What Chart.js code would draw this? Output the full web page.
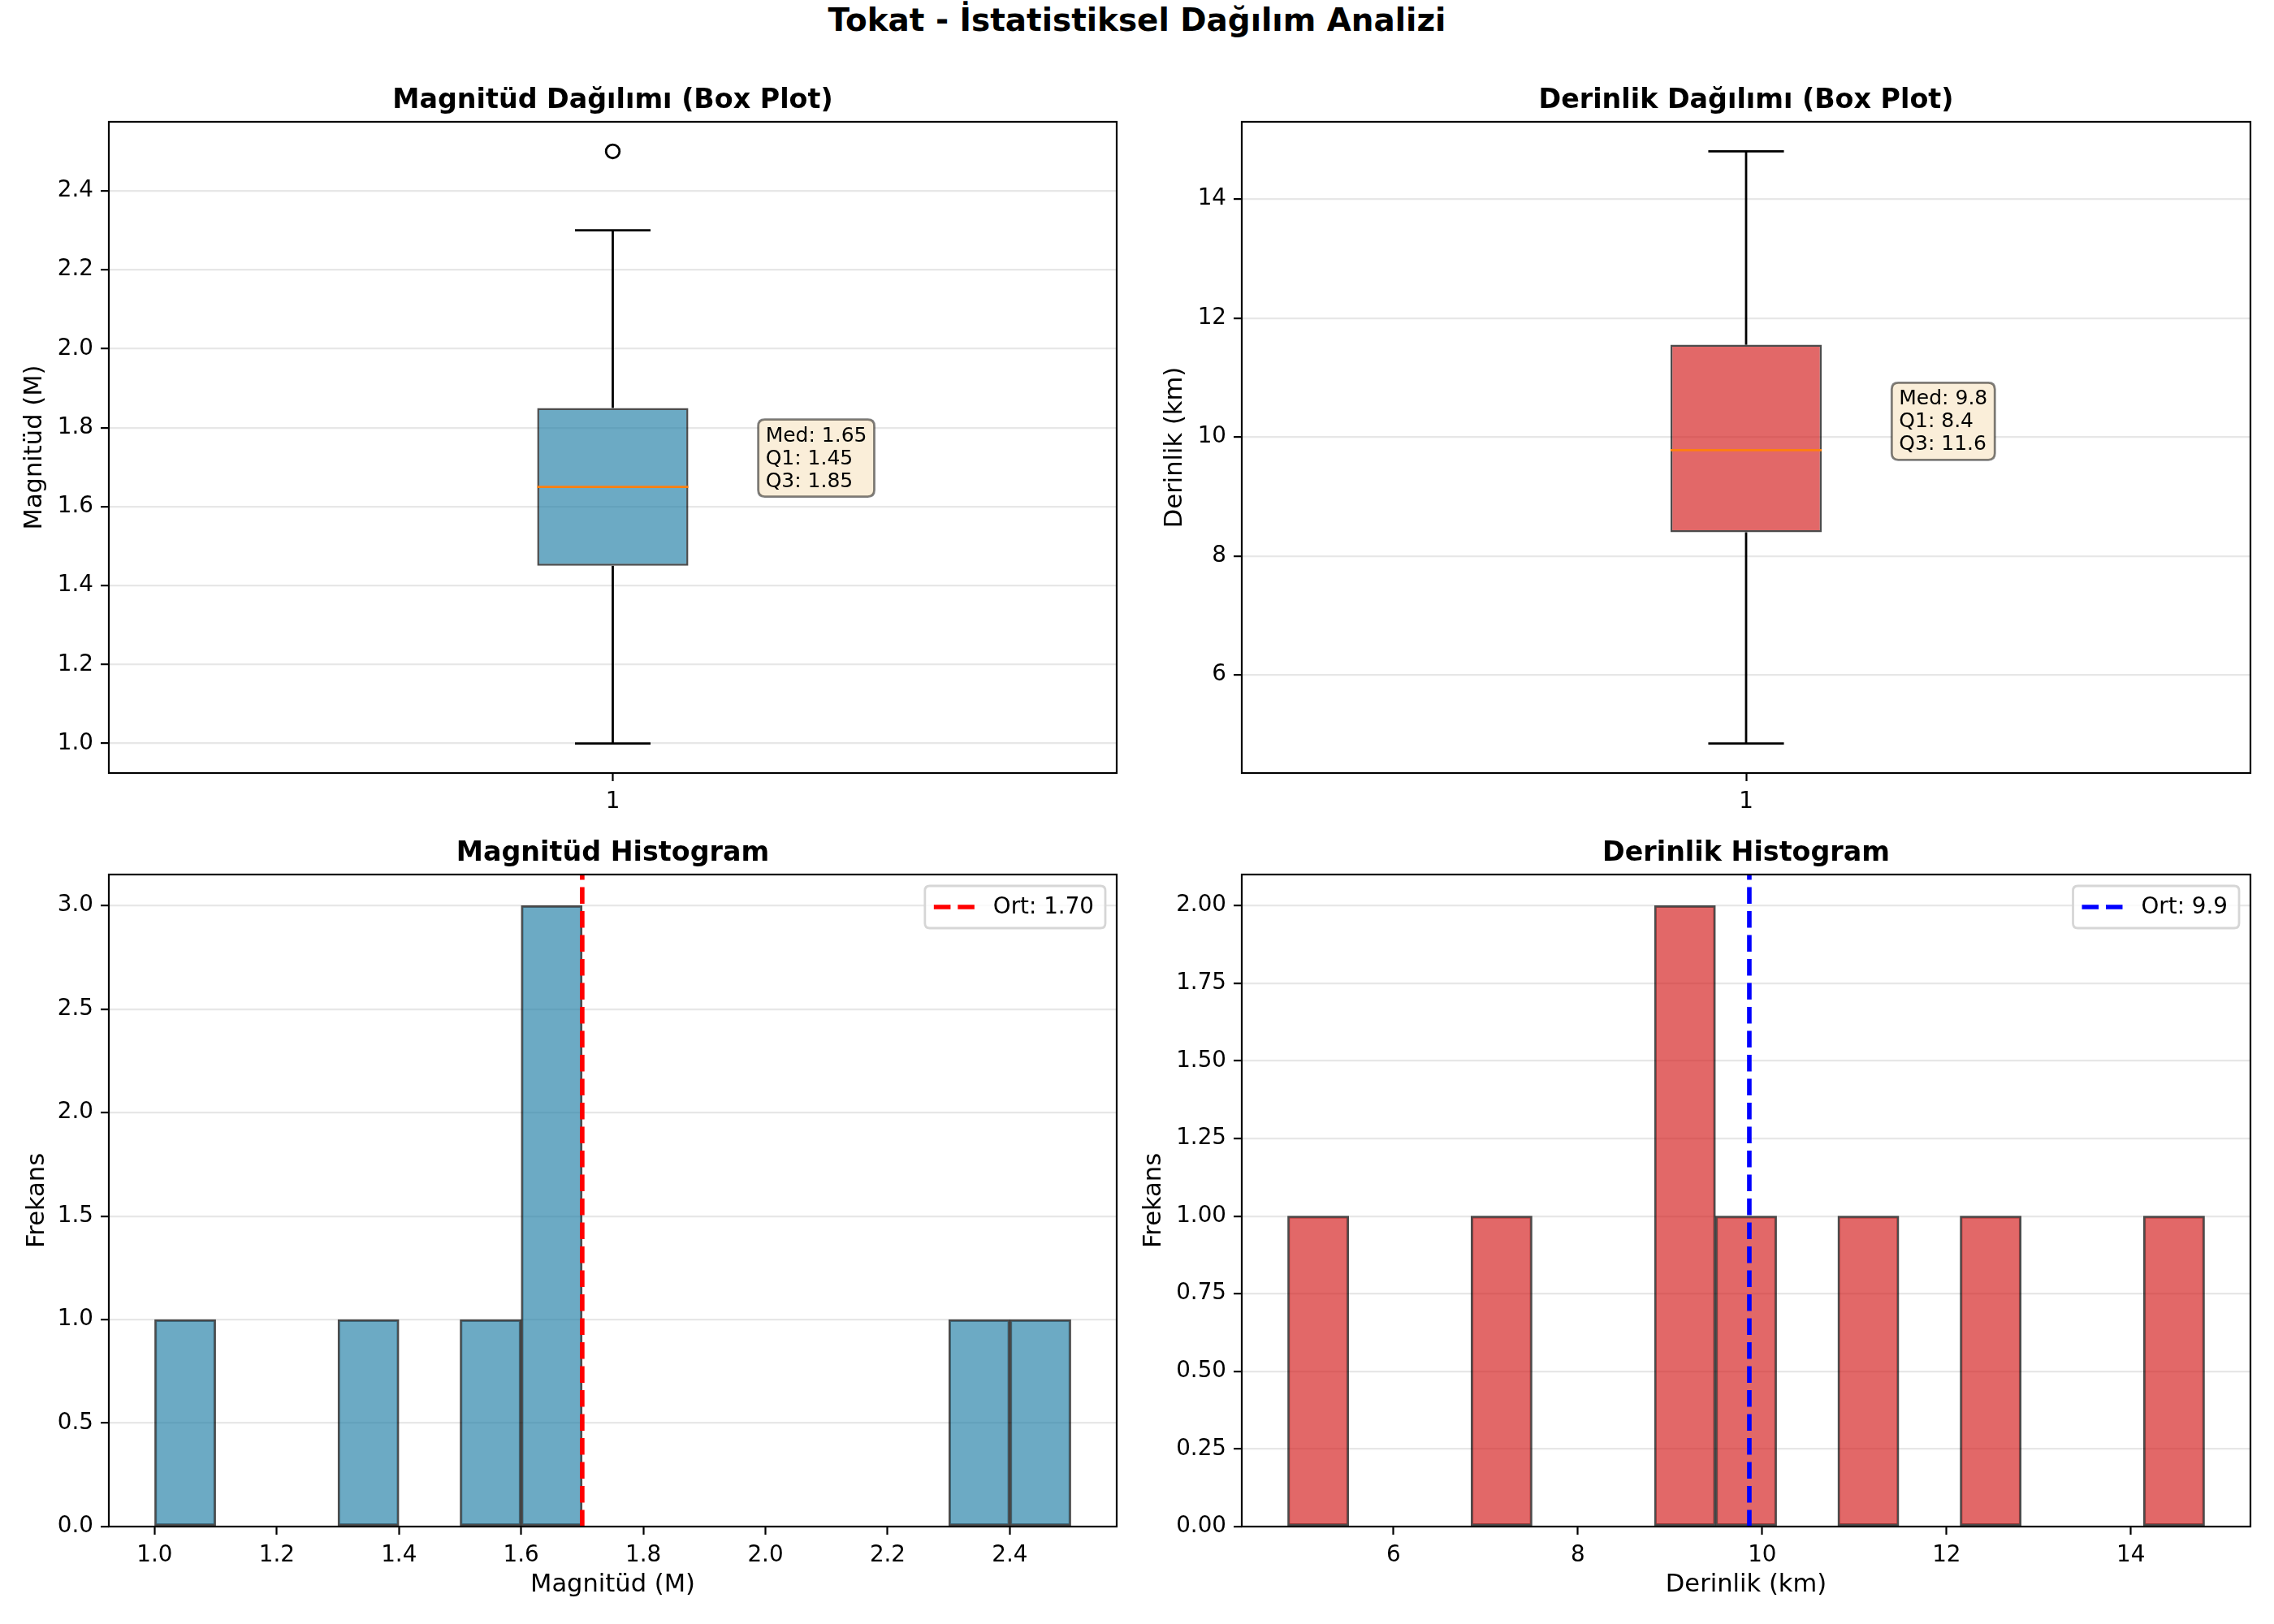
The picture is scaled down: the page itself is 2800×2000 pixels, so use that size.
<!DOCTYPE html>
<html>
<head>
<meta charset="utf-8">
<script src="https://cdn.jsdelivr.net/npm/chart.js@4.4.0/dist/chart.umd.min.js"></script>
<style>
html, body { margin: 0; padding: 0; background: #fff; }
#page { position: relative; width: 2800px; height: 2000px; overflow: hidden; background: #fff; }
.cell { position: absolute; }
#suptitle { position: absolute; left: 0; top: 6px; width: 2800px; text-align: center;
  font-family: 'DejaVu Sans', sans-serif; font-weight: bold; font-size: 38.9px; line-height: 38.9px; color: #000; }
</style>
</head>
<body>
<div id="page">
  <div id="suptitle">Tokat - İstatistiksel Dağılım Analizi</div>
  <div class="cell" style="left:0px;top:60px;"><canvas id="c1" width="1400" height="950"></canvas></div>
  <div class="cell" style="left:1400px;top:60px;"><canvas id="c2" width="1400" height="950"></canvas></div>
  <div class="cell" style="left:0px;top:1010px;"><canvas id="c3" width="1400" height="990"></canvas></div>
  <div class="cell" style="left:1400px;top:1010px;"><canvas id="c4" width="1400" height="990"></canvas></div>
</div>
<script>
// ---------------- DATA ----------------
// Box plot statistics: [lower whisker, Q1, median, Q3, upper whisker]
const MAG_BOX_STATS = [1.0, 1.45, 1.65, 1.85, 2.3];
const MAG_OUTLIERS = [2.5];
const DEPTH_BOX_STATS = [4.85, 8.4, 9.78, 11.55, 14.8];
const DEPTH_OUTLIERS = [];
const BOX_CATEGORY = ['1'];

// Histogram bins and counts
const MAG_BIN_EDGES = [1.0, 1.1, 1.2, 1.3, 1.4, 1.5, 1.6, 1.7, 1.8, 1.9, 2.0, 2.1, 2.2, 2.3, 2.4, 2.5];
const MAG_COUNTS = [1, 0, 0, 1, 0, 1, 3, 0, 0, 0, 0, 0, 0, 1, 1];
const MAG_MEAN = 1.70;

const DEPTH_BIN_EDGES = [4.85, 5.513, 6.177, 6.84, 7.503, 8.167, 8.83, 9.493, 10.157, 10.82, 11.483, 12.147, 12.81, 13.473, 14.137, 14.8];
const DEPTH_COUNTS = [1, 0, 0, 1, 0, 0, 2, 1, 0, 1, 0, 1, 0, 0, 1];
const DEPTH_MEAN = 9.86;

// Tick labels
const MAG_BOX_Y_TICKS = [1.0, 1.2, 1.4, 1.6, 1.8, 2.0, 2.2, 2.4];
const DEPTH_BOX_Y_TICKS = [6, 8, 10, 12, 14];
const BOX_X_TICKS = [1];
const MAG_HIST_X_TICKS = [1.0, 1.2, 1.4, 1.6, 1.8, 2.0, 2.2, 2.4];
const MAG_HIST_Y_TICKS = [0.0, 0.5, 1.0, 1.5, 2.0, 2.5, 3.0];
const DEPTH_HIST_X_TICKS = [6, 8, 10, 12, 14];
const DEPTH_HIST_Y_TICKS = [0.0, 0.25, 0.5, 0.75, 1.0, 1.25, 1.5, 1.75, 2.0];

// ---------------- STYLE ----------------
const PT = 200 / 72;
const TICK_PX = 10 * PT;
const LABEL_PX = 11 * PT;
const TITLE_PX = 12 * PT;
const ANN_PX = 9 * PT;
const LEGEND_PX = 10 * PT;
const MAG_FILL = 'rgba(46,134,171,0.7)';
const DEPTH_FILL = 'rgba(214,40,40,0.7)';
const EDGE = 'rgba(0,0,0,0.7)';
const BOX_POS = 1, BOX_W = 0.15, CAP_W = 0.075, ANN_X = 1.15;

Chart.defaults.font.family = "'DejaVu Sans', sans-serif";
Chart.defaults.color = '#000';

// ---------------- PLUGINS ----------------
const framePlugin = {
  id: 'frame',
  afterDatasetsDraw(chart) {
    const { ctx, chartArea: a } = chart;
    ctx.save();
    ctx.strokeStyle = '#000';
    ctx.lineWidth = 2.2;
    ctx.strokeRect(a.left, a.top, a.right - a.left, a.bottom - a.top);
    ctx.restore();
  }
};

function roundRectPath(ctx, x, y, w, h, r) {
  ctx.beginPath();
  ctx.moveTo(x + r, y);
  ctx.lineTo(x + w - r, y);
  ctx.quadraticCurveTo(x + w, y, x + w, y + r);
  ctx.lineTo(x + w, y + h - r);
  ctx.quadraticCurveTo(x + w, y + h, x + w - r, y + h);
  ctx.lineTo(x + r, y + h);
  ctx.quadraticCurveTo(x, y + h, x, y + h - r);
  ctx.lineTo(x, y + r);
  ctx.quadraticCurveTo(x, y, x + r, y);
  ctx.closePath();
}

const statBoxPlugin = {
  id: 'statBox',
  afterDraw(chart, args, opts) {
    if (!opts || !opts.lines) return;
    const { ctx } = chart;
    const ax = chart.scales.x.getPixelForValue(opts.x);
    const ay = chart.scales.y.getPixelForValue(opts.y);
    ctx.save();
    ctx.font = ANN_PX + "px 'DejaVu Sans'";
    const tw = Math.max(...opts.lines.map(l => ctx.measureText(l).width));
    const left = ax - 7, right = ax + 2 + tw + 9, top = ay - 83, bottom = ay + 12;
    roundRectPath(ctx, left, top, right - left, bottom - top, 8);
    ctx.fillStyle = '#FAEED9';
    ctx.fill();
    ctx.strokeStyle = 'rgba(0,0,0,0.5)';
    ctx.lineWidth = 2.8;
    ctx.stroke();
    ctx.fillStyle = '#000';
    ctx.textBaseline = 'alphabetic';
    ctx.textAlign = 'left';
    const n = opts.lines.length;
    opts.lines.forEach((l, i) => ctx.fillText(l, ax + 2, ay - 28 * (n - 1 - i)));
    ctx.restore();
  }
};

const innerLegendPlugin = {
  id: 'innerLegend',
  afterDraw(chart) {
    const ds = chart.data.datasets.find(d => d.inLegend);
    if (!ds) return;
    const { ctx, chartArea: a } = chart;
    ctx.save();
    ctx.font = LEGEND_PX + "px 'DejaVu Sans'";
    const tw = ctx.measureText(ds.label).width;
    const w = 84 + tw + 14, h = 52;
    const x = a.right - 14 - w, y = a.top + 14;
    roundRectPath(ctx, x, y, w, h, 6);
    ctx.fillStyle = 'rgba(255,255,255,0.8)';
    ctx.fill();
    ctx.strokeStyle = '#d6d6d6';
    ctx.lineWidth = 2.8;
    ctx.stroke();
    ctx.beginPath();
    ctx.setLineDash(ds.borderDash);
    ctx.lineWidth = ds.borderWidth;
    ctx.strokeStyle = ds.borderColor;
    ctx.moveTo(x + 11, y + h / 2);
    ctx.lineTo(x + 61, y + h / 2);
    ctx.stroke();
    ctx.setLineDash([]);
    ctx.fillStyle = '#000';
    ctx.textBaseline = 'middle';
    ctx.fillText(ds.label, x + 84, y + h / 2 + 1);
    ctx.restore();
  }
};

// ---------------- SCALES ----------------
function fmt(d) { return v => Number(v).toFixed(d); }

function xScale(min, max, ticks, dec, title, height, titlePadBottom) {
  return {
    type: 'linear', min, max, offset: false,
    afterBuildTicks: s => { s.ticks = ticks.map(v => ({ value: v })); },
    afterFit: s => { s.height = height; },
    ticks: { callback: fmt(dec), font: { size: TICK_PX }, color: '#000', padding: 9, maxRotation: 0, minRotation: 0, autoSkip: false },
    grid: { display: true, drawOnChartArea: false, drawTicks: true, tickLength: 10, tickWidth: 2.2, tickColor: '#000', offset: false },
    border: { display: false },
    title: title ? { display: true, text: title, font: { size: LABEL_PX }, color: '#000', padding: { top: 0, bottom: titlePadBottom } } : { display: false }
  };
}

function yScale(min, max, ticks, dec, title, width, titlePadTop) {
  return {
    type: 'linear', min, max, beginAtZero: false,
    afterBuildTicks: s => { s.ticks = ticks.map(v => ({ value: v })); },
    afterFit: s => { s.width = width; },
    ticks: { callback: fmt(dec), font: { size: TICK_PX }, color: '#000', padding: 9, autoSkip: false },
    grid: { display: true, drawOnChartArea: true, color: 'rgba(176,176,176,0.3)', lineWidth: 2.2, drawTicks: true, tickLength: 10, tickWidth: 2.2, tickColor: '#000' },
    border: { display: false },
    title: { display: true, text: title, font: { size: LABEL_PX }, color: '#000', padding: { top: titlePadTop, bottom: 0 } }
  };
}

function titleCfg(text, padTop, padBottom) {
  return { display: true, fullSize: false, text, font: { size: TITLE_PX, weight: 'bold' }, color: '#000', padding: { top: padTop, bottom: padBottom } };
}

function lineDs(points, color, width, order) {
  return { type: 'line', data: points, borderColor: color, borderWidth: width, pointRadius: 0, fill: false, tension: 0, order, borderCapStyle: 'butt' };
}

// ---------------- CHARTS ----------------
function boxChart(id, stats, outliers, fill, yTicks, yDec, yTitle, geo, statDec) {
  const [lo, q1, med, q3, hi] = stats;
  const all = [lo, hi, ...outliers];
  const dmin = Math.min(...all), dmax = Math.max(...all), pad = 0.05 * (dmax - dmin);
  const datasets = [
    lineDs([{ x: BOX_POS - BOX_W / 2, y: med }, { x: BOX_POS + BOX_W / 2, y: med }], '#FF7F0E', 2.8, 0),
    { type: 'scatter', data: outliers.map(v => ({ x: BOX_POS, y: v })), pointRadius: 8.3, pointBorderWidth: 2.8,
      pointBorderColor: '#000', pointBackgroundColor: 'rgba(0,0,0,0)', showLine: false, order: 1 },
    lineDs([{ x: BOX_POS, y: lo }, { x: BOX_POS, y: q1 }], '#000', 2.8, 2),
    lineDs([{ x: BOX_POS, y: q3 }, { x: BOX_POS, y: hi }], '#000', 2.8, 2),
    lineDs([{ x: BOX_POS - CAP_W / 2, y: lo }, { x: BOX_POS + CAP_W / 2, y: lo }], '#000', 2.8, 2),
    lineDs([{ x: BOX_POS - CAP_W / 2, y: hi }, { x: BOX_POS + CAP_W / 2, y: hi }], '#000', 2.8, 2),
    { type: 'bar', label: BOX_CATEGORY[0], data: [{ x: BOX_POS, y: [q1, q3] }], backgroundColor: fill, borderColor: EDGE,
      borderWidth: 2.5, borderSkipped: false, barPercentage: BOX_W, categoryPercentage: 1, order: 5 }
  ];
  return new Chart(document.getElementById(id), {
    type: 'bar',
    data: { datasets },
    options: {
      responsive: false, animation: false, devicePixelRatio: 1, events: [],
      layout: { padding: { top: 0, left: 0, bottom: 0, right: geo.right } },
      scales: {
        x: xScale(0.5, 1.5, BOX_X_TICKS, 0, null, geo.xh, 0),
        y: yScale(dmin - pad, dmax + pad, yTicks, yDec, yTitle, geo.yw, geo.ytp)
      },
      plugins: {
        legend: { display: false }, tooltip: { enabled: false },
        title: titleCfg(geo.title, geo.ttop, geo.tbot),
        statBox: { x: ANN_X, y: med, lines: ['Med: ' + med.toFixed(statDec), 'Q1: ' + q1.toFixed(statDec), 'Q3: ' + q3.toFixed(statDec)] }
      }
    },
    plugins: [framePlugin, statBoxPlugin]
  });
}

function histChart(id, edges, counts, mean, meanDec, fill, meanColor, xTicks, xDec, yTicks, yDec, xTitle, geo) {
  const centers = counts.map((c, i) => (edges[i] + edges[i + 1]) / 2);
  const lo = edges[0], hi = edges[edges.length - 1], pad = 0.05 * (hi - lo);
  const ymax = Math.max(...counts) * 1.05;
  const datasets = [
    { type: 'line', label: 'Ort: ' + mean.toFixed(meanDec), inLegend: true, data: [{ x: mean, y: 0 }, { x: mean, y: ymax }],
      borderColor: meanColor, borderWidth: 5.6, borderDash: [20.6, 8.9], pointRadius: 0, fill: false, order: 0, borderCapStyle: 'butt' },
    { type: 'bar', label: 'hist', data: counts.map((c, i) => ({ x: centers[i], y: c })), backgroundColor: fill, borderColor: EDGE,
      borderWidth: 2.5, borderSkipped: false, barPercentage: 1, categoryPercentage: 1, order: 3 }
  ];
  return new Chart(document.getElementById(id), {
    type: 'bar',
    data: { datasets },
    options: {
      responsive: false, animation: false, devicePixelRatio: 1, events: [],
      layout: { padding: { top: 0, left: 0, bottom: 0, right: geo.right } },
      scales: {
        x: xScale(lo - pad, hi + pad, xTicks, xDec, xTitle, geo.xh, geo.xtp),
        y: yScale(0, ymax, yTicks, yDec, 'Frekans', geo.yw, geo.ytp)
      },
      plugins: {
        legend: { display: false }, tooltip: { enabled: false },
        title: titleCfg(geo.title, geo.ttop, geo.tbot)
      }
    },
    plugins: [framePlugin, innerLegendPlugin]
  });
}

boxChart('c1', MAG_BOX_STATS, MAG_OUTLIERS, MAG_FILL, MAG_BOX_Y_TICKS, 1, 'Magnitüd (M)',
  { title: 'Magnitüd Dağılımı (Box Plot)', ttop: 44, tbot: 6, right: 25, xh: 58, yw: 134, ytp: 24.6 }, 2);
boxChart('c2', DEPTH_BOX_STATS, DEPTH_OUTLIERS, DEPTH_FILL, DEPTH_BOX_Y_TICKS, 0, 'Derinlik (km)',
  { title: 'Derinlik Dağılımı (Box Plot)', ttop: 44, tbot: 6, right: 29, xh: 58, yw: 129, ytp: 28.6 }, 1);
histChart('c3', MAG_BIN_EDGES, MAG_COUNTS, MAG_MEAN, 2, MAG_FILL, '#FF0000', MAG_HIST_X_TICKS, 1, MAG_HIST_Y_TICKS, 1, 'Magnitüd (M)',
  { title: 'Magnitüd Histogram', ttop: 21, tbot: 6, right: 25, xh: 120, xtp: 29.6, yw: 134, ytp: 27.6 });
histChart('c4', DEPTH_BIN_EDGES, DEPTH_COUNTS, DEPTH_MEAN, 1, DEPTH_FILL, '#0000FF', DEPTH_HIST_X_TICKS, 0, DEPTH_HIST_Y_TICKS, 2, 'Derinlik (km)',
  { title: 'Derinlik Histogram', ttop: 21, tbot: 6, right: 29, xh: 120, xtp: 29.6, yw: 129, ytp: 2.6 });
</script>
</body>
</html>
